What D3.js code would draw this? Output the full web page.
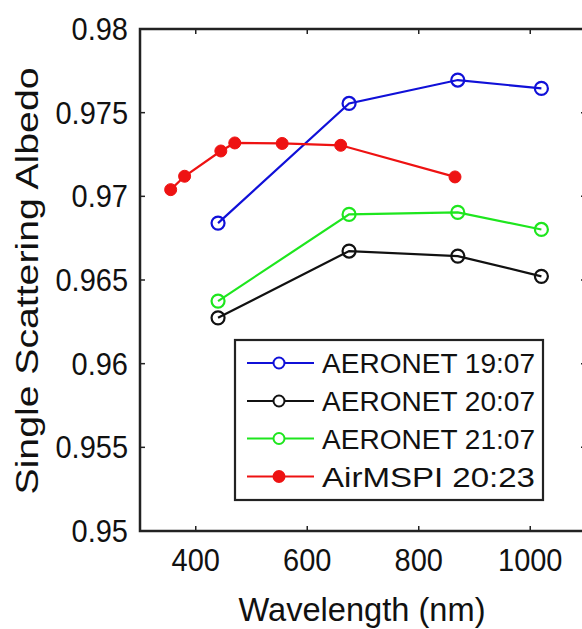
<!DOCTYPE html>
<html>
<head>
<meta charset="utf-8">
<script src="https://cdn.jsdelivr.net/npm/d3@7"></script>
<style>
  html, body { margin: 0; padding: 0; background: #fff; }
  svg { display: block; }
  text { font-family: "Liberation Sans", Arial, Helvetica, sans-serif; fill: #111; }
</style>
</head>
<body>
<svg id="chart" width="582" height="629"></svg>
<script>
// Single scattering albedo spectra: AERONET retrievals and AirMSPI
const aeronetWavelengths = [440, 675, 870, 1020];
const aeronet1907 = [0.9684, 0.97555, 0.97695, 0.97645];
const aeronet2007 = [0.96274, 0.96673, 0.96643, 0.96522];
const aeronet2107 = [0.96374, 0.96892, 0.96904, 0.96802];

const airmspiWavelengths = [355, 380, 445, 470, 555, 660, 865];
const airmspi2023 = [0.9704, 0.9712, 0.97271, 0.97319, 0.97316, 0.97305, 0.97116];

const xTicks = [400, 600, 800, 1000];
const yTicks = [0.95, 0.955, 0.96, 0.965, 0.97, 0.975, 0.98];
const yTickLabels = ["0.95", "0.955", "0.96", "0.965", "0.97", "0.975", "0.98"];

const seriesNames = ["AERONET 19:07", "AERONET 20:07", "AERONET 21:07", "AirMSPI 20:23"];

const series = [
  { name: seriesNames[0], x: aeronetWavelengths, y: aeronet1907, color: "#1010d8", filled: false },
  { name: seriesNames[1], x: aeronetWavelengths, y: aeronet2007, color: "#111111", filled: false },
  { name: seriesNames[2], x: aeronetWavelengths, y: aeronet2107, color: "#1ee61e", filled: false },
  { name: seriesNames[3], x: airmspiWavelengths, y: airmspi2023, color: "#ee1212", filled: true }
];

const svg = d3.select("#chart");
const box = { left: 140, right: 586, top: 29, bottom: 531 };

const x = d3.scaleLinear().domain([300, 1100]).range([box.left, box.right]);
const y = d3.scaleLinear().domain([0.95, 0.98]).range([box.bottom, box.top]);

const axisColor = "#222";
const tickLen = 5;

// inward ticks on all four sides
const g = svg.append("g");
g.selectAll(".xt").data(xTicks).join("g").each(function (d) {
  const s = d3.select(this);
  s.append("line").attr("x1", x(d)).attr("x2", x(d)).attr("y1", box.bottom).attr("y2", box.bottom - tickLen)
    .attr("stroke", axisColor).attr("stroke-width", 1.5);
  s.append("line").attr("x1", x(d)).attr("x2", x(d)).attr("y1", box.top).attr("y2", box.top + tickLen)
    .attr("stroke", axisColor).attr("stroke-width", 1.5);
});
g.selectAll(".yt").data(yTicks).join("g").each(function (d) {
  const s = d3.select(this);
  s.append("line").attr("x1", box.left).attr("x2", box.left + tickLen).attr("y1", y(d)).attr("y2", y(d))
    .attr("stroke", axisColor).attr("stroke-width", 1.5);
  s.append("line").attr("x1", box.right).attr("x2", box.right - tickLen).attr("y1", y(d)).attr("y2", y(d))
    .attr("stroke", axisColor).attr("stroke-width", 1.5);
});

// tick labels, drawn slightly tall
const tallY = 1.1;
svg.selectAll(".xl").data(xTicks).join("text")
  .attr("transform", d => `translate(${x(d)}, ${box.bottom + 40}) scale(1, ${tallY})`)
  .attr("text-anchor", "middle").attr("font-size", 29)
  .text(d => d);
svg.selectAll(".yl").data(yTicks).join("text")
  .attr("transform", d => `translate(${box.left - 12}, ${y(d) + 11}) scale(1, ${tallY})`)
  .attr("text-anchor", "end").attr("font-size", 29)
  .text((d, i) => yTickLabels[i]);

// axis titles
svg.append("text")
  .attr("x", (box.left + box.right) / 2 - 1).attr("y", 621)
  .attr("text-anchor", "middle").attr("font-size", 33)
  .attr("textLength", 247).attr("lengthAdjust", "spacingAndGlyphs")
  .text("Wavelength (nm)");
svg.append("text")
  .attr("transform", `translate(38, ${(box.top + box.bottom) / 2 + 1}) rotate(-90)`)
  .attr("text-anchor", "middle").attr("font-size", 32)
  .attr("textLength", 427).attr("lengthAdjust", "spacingAndGlyphs")
  .text("Single Scattering Albedo");

// data lines and markers
const line = d3.line().x(d => x(d[0])).y(d => y(d[1]));
series.forEach(s => {
  const pts = s.x.map((v, i) => [v, s.y[i]]);
  svg.append("path").datum(pts).attr("d", line)
    .attr("fill", "none").attr("stroke", s.color).attr("stroke-width", 2.2);
  svg.selectAll(null).data(pts).join("circle")
    .attr("cx", d => x(d[0])).attr("cy", d => y(d[1]))
    .attr("r", s.filled ? 6 : 6.5)
    .attr("fill", s.filled ? s.color : "none")
    .attr("stroke", s.color).attr("stroke-width", s.filled ? 1 : 2.2);
});

// plot frame
svg.append("rect")
  .attr("x", box.left).attr("y", box.top)
  .attr("width", box.right - box.left).attr("height", box.bottom - box.top)
  .attr("fill", "none").attr("stroke", axisColor).attr("stroke-width", 2.5);

// legend
const lg = { x: 235, y: 340, w: 308, h: 160 };
const legend = svg.append("g");
legend.append("rect").attr("x", lg.x).attr("y", lg.y).attr("width", lg.w).attr("height", lg.h)
  .attr("fill", "#fff").attr("stroke", axisColor).attr("stroke-width", 2.2);
const rowY = [363, 401, 438.5, 476.5];
series.forEach((s, i) => {
  const yy = rowY[i];
  legend.append("line").attr("x1", 247).attr("x2", 314).attr("y1", yy).attr("y2", yy)
    .attr("stroke", s.color).attr("stroke-width", 2.2);
  legend.append("circle").attr("cx", 279).attr("cy", yy).attr("r", 5.5)
    .attr("fill", s.filled ? s.color : "#fff").attr("stroke", s.color).attr("stroke-width", 2);
  legend.append("text").attr("x", 322).attr("y", yy + 10)
    .attr("font-size", 27).attr("textLength", 213).attr("lengthAdjust", "spacingAndGlyphs")
    .text(s.name);
});
</script>
</body>
</html>
